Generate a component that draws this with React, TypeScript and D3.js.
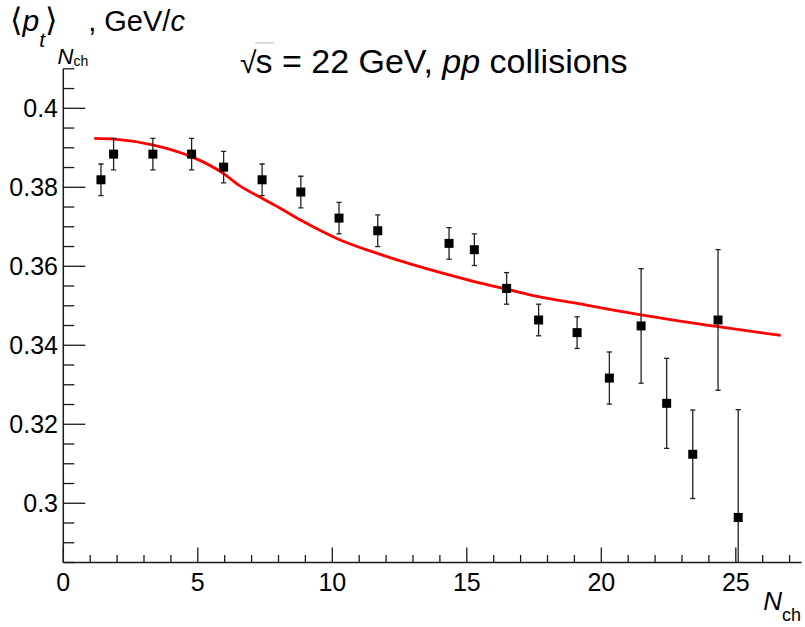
import React from 'react';
import * as d3 from 'd3';

// Measured mean transverse momentum per charged multiplicity bin
const nch = [1.40, 1.87, 3.33, 4.77, 5.96, 7.39, 8.83, 10.25, 11.69, 14.34, 15.28, 16.48, 17.67, 19.10, 20.30, 21.48, 22.43, 23.40, 24.34, 25.09];
const meanPt = [0.3819, 0.3884, 0.3884, 0.3884, 0.3851, 0.3819, 0.3788, 0.3722, 0.3690, 0.3658, 0.3642, 0.3544, 0.3464, 0.3432, 0.3317, 0.3449, 0.3253, 0.3124, 0.3464, 0.2964];
const ptErr = [0.0040, 0.0040, 0.0040, 0.0040, 0.0040, 0.0040, 0.0040, 0.0040, 0.0040, 0.0040, 0.0040, 0.0040, 0.0040, 0.0040, 0.0066, 0.0145, 0.0114, 0.0112, 0.0178, 0.0273];

// Model prediction
const curveNch = [1.15, 1.9, 3.35, 3.97, 4.78, 5.95, 6.51, 7.39, 8.06, 8.82, 10.25, 11.7, 14.34, 15.28, 16.48, 17.67, 19.10, 21.48, 24.34, 26.67];
const curvePt = [0.3924, 0.3922, 0.3907, 0.3896, 0.3877, 0.3835, 0.3806, 0.3772, 0.3747, 0.3717, 0.3668, 0.3632, 0.3578, 0.3561, 0.3542, 0.3523, 0.3506, 0.3477, 0.3447, 0.3425];

const xTicks = [0, 5, 10, 15, 20, 25];
const yTicks = [0.3, 0.32, 0.34, 0.36, 0.38, 0.4];
const yTickLabels = ['0.3', '0.32', '0.34', '0.36', '0.38', '0.4'];

const W = 805;
const H = 627;
const FONT = '"Liberation Sans", Arial, Helvetica, sans-serif';
const BRACKET_FONT = '"DejaVu Sans", sans-serif';

const x = d3.scaleLinear().domain([0, 27.45]).range([63.3, 801.7]);
const y = d3.scaleLinear().domain([0.285, 0.41]).range([562.5, 68.8]);

const xMinor = d3.range(1, 27.45, 1).filter((v) => v % 5 !== 0);
const yMinor = d3
  .range(0, 26)
  .map((i) => 0.285 + i * 0.005)
  .filter((v) => v <= 0.4101 && Math.abs(v * 50 - Math.round(v * 50)) > 1e-6);

export default function App() {
  const [x0, x1] = x.range();
  const [y0, y1] = y.range();
  const line = d3
    .line<number>()
    .x((_, i) => x(curveNch[i]))
    .y((d) => y(d))
    .curve(d3.curveMonotoneX);
  const axisColor = '#1a1a1a';

  return (
    <svg width={W} height={H} style={{ position: 'absolute', left: 0, top: 0, background: '#fff' }} fontFamily={FONT}>
      <defs>
        <clipPath id="plotArea">
          <rect x={x0} y={y1} width={x1 - x0} height={y0 - y1} />
        </clipPath>
      </defs>

      {/* model curve */}
      <path d={line(curvePt) || ''} fill="none" stroke="#ff0000" strokeWidth={2.8} clipPath="url(#plotArea)" />

      {/* data with error bars */}
      <g clipPath="url(#plotArea)">
        {nch.map((n, i) => {
          const cx = x(n);
          const cy = y(meanPt[i]);
          const top = y(meanPt[i] + ptErr[i]);
          const bot = y(meanPt[i] - ptErr[i]);
          return (
            <g key={i}>
              <line x1={cx} x2={cx} y1={top} y2={bot} stroke="#222" strokeWidth={1.3} />
              <line x1={cx - 2.6} x2={cx + 2.6} y1={top} y2={top} stroke="#222" strokeWidth={1.3} />
              <line x1={cx - 2.6} x2={cx + 2.6} y1={bot} y2={bot} stroke="#222" strokeWidth={1.3} />
              <rect x={cx - 4.5} y={cy - 4.5} width={9} height={9} fill="#000" />
            </g>
          );
        })}
      </g>

      {/* x axis */}
      <line x1={x0} x2={x1} y1={y0} y2={y0} stroke={axisColor} strokeWidth={1.5} />
      {xTicks.map((t) => (
        <g key={'xt' + t}>
          <line x1={x(t)} x2={x(t)} y1={y0} y2={y0 - 15} stroke={axisColor} strokeWidth={1.3} />
          <text x={x(t)} y={591} textAnchor="middle" fontSize={25} fill="#000">
            {t}
          </text>
        </g>
      ))}
      {xMinor.map((t) => (
        <line key={'xm' + t} x1={x(t)} x2={x(t)} y1={y0} y2={y0 - 7.5} stroke={axisColor} strokeWidth={1.3} />
      ))}

      {/* y axis */}
      <line x1={x0} x2={x0} y1={y0} y2={y1} stroke={axisColor} strokeWidth={1.5} />
      {yTicks.map((t, i) => (
        <g key={'yt' + t}>
          <line x1={x0} x2={x0 + 22} y1={y(t)} y2={y(t)} stroke={axisColor} strokeWidth={1.3} />
          <text x={58} y={y(t) + 9} textAnchor="end" fontSize={25} fill="#000">
            {yTickLabels[i]}
          </text>
        </g>
      ))}
      {yMinor.map((t) => (
        <line key={'ym' + t} x1={x0} x2={x0 + 11} y1={y(t)} y2={y(t)} stroke={axisColor} strokeWidth={1.3} />
      ))}

      {/* axis titles */}
      <text x={801} y={610} textAnchor="end" fill="#000">
        <tspan fontSize={26} fontStyle="italic">N</tspan>
        <tspan fontSize={18} dy={11}>ch</tspan>
      </text>

      <text x={10} y={31} fill="#000" fontSize={29}>
        <tspan fontFamily={BRACKET_FONT} fontSize={32}>⟨</tspan>
        <tspan fontStyle="italic" fontSize={30}>p</tspan>
        <tspan fontStyle="italic" fontSize={21} dy={16}>t</tspan>
        <tspan fontFamily={BRACKET_FONT} fontSize={32} dy={-16}>⟩</tspan>
        <tspan fontStyle="italic" fontSize={22} dy={33}>N</tspan>
        <tspan fontSize={14} dy={2}>ch</tspan>
        <tspan dy={-35}>, GeV/</tspan>
        <tspan fontStyle="italic">c</tspan>
      </text>

      {/* title */}
      <line x1={255} x2={274} y1={43} y2={43} stroke="#aaa" strokeWidth={0.8} />
      <text x={240} y={73} fill="#000" fontSize={34}>
        <tspan fontSize={30}>√</tspan>
        <tspan dx={-1}>s = 22 GeV, </tspan>
        <tspan fontStyle="italic">pp</tspan>
        <tspan> collisions</tspan>
      </text>
    </svg>
  );
}
